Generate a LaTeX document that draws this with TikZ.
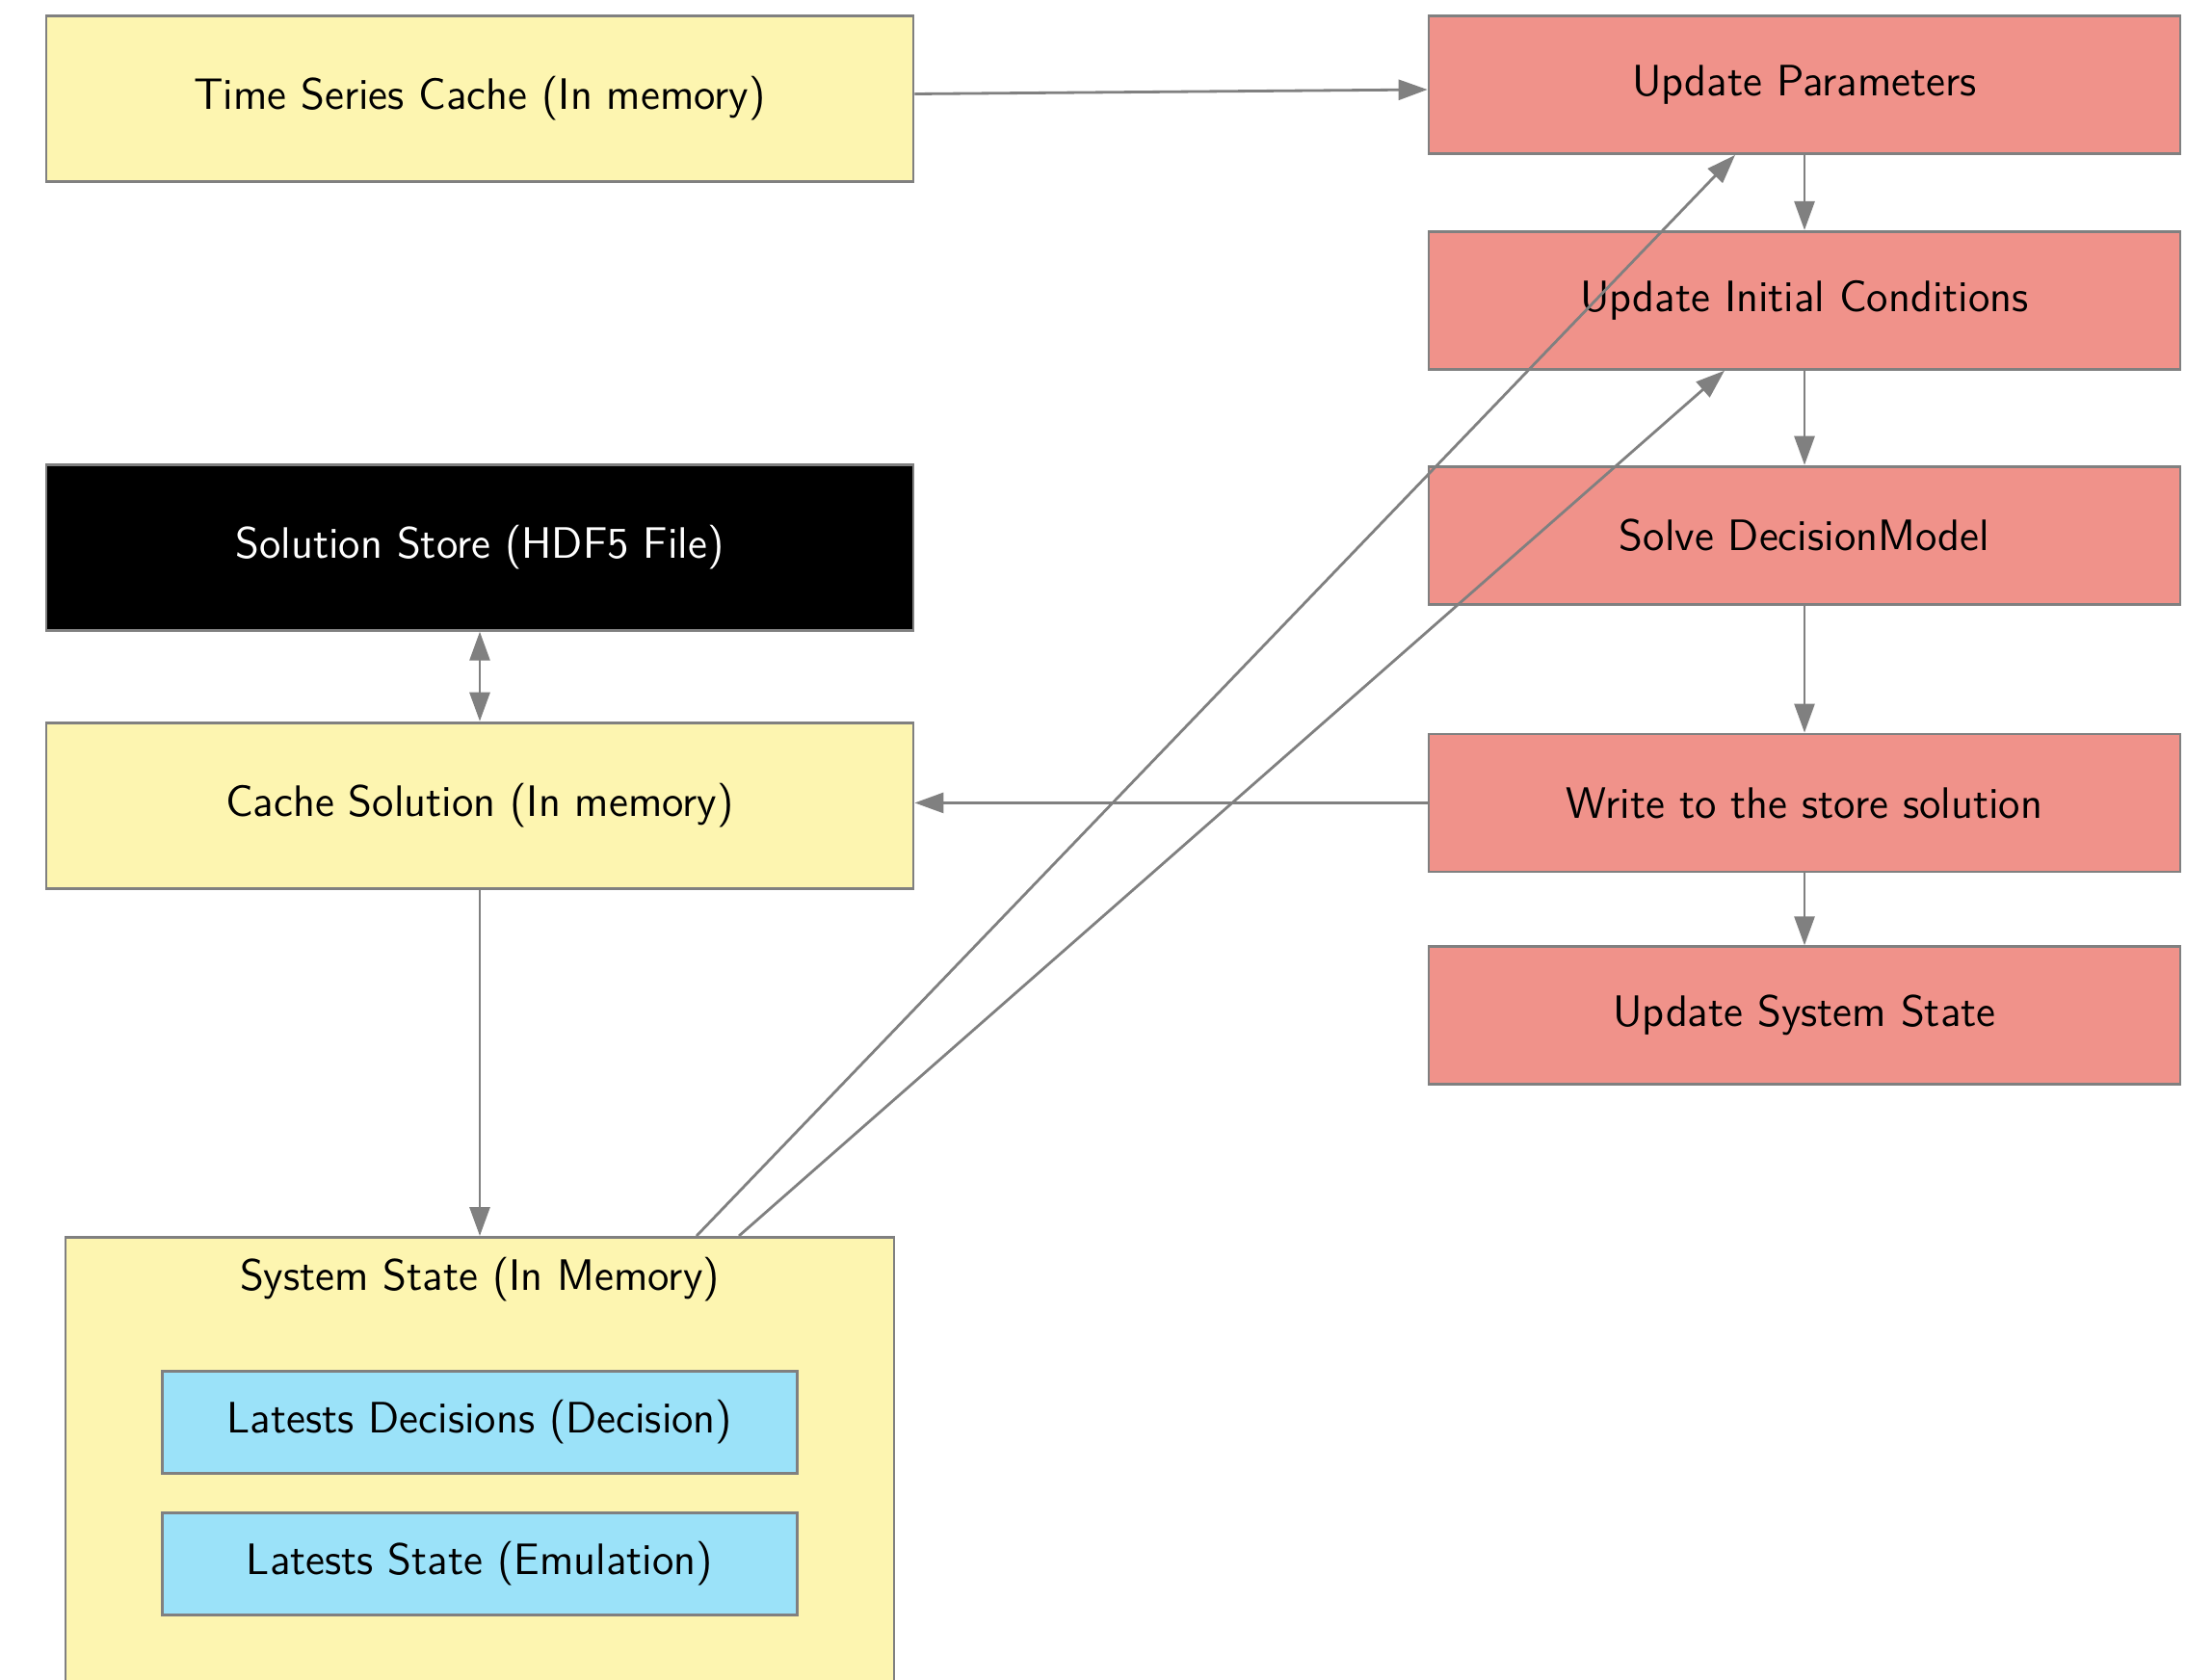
\documentclass[tikz,border=0pt]{standalone}
\usepackage{tikz}
\usetikzlibrary{arrows.meta,positioning}
\definecolor{edge}{RGB}{128,128,128}
\definecolor{memfill}{RGB}{253,245,176}
\definecolor{stepfill}{RGB}{240,146,138}
\definecolor{latfill}{RGB}{155,226,249}
\tikzset{
  base/.style={draw=edge,line width=0.8pt,font=\sffamily\fontsize{13}{15.6}\selectfont,
    align=center,inner sep=4pt},
  membox/.style={base,fill=memfill,minimum width=9cm,minimum height=1.72cm},
  stepbox/.style={base,fill=stepfill,minimum width=7.8cm,minimum height=1.43cm},
  filebox/.style={base,fill=black,text=white,minimum width=9cm,minimum height=1.72cm},
  latbox/.style={base,fill=latfill,minimum width=6.59cm,minimum height=1.06cm},
  tip/.style={Triangle[length=3mm,width=2.1mm]},
  arr/.style={-{Triangle[length=3mm,width=2.1mm]},line width=0.8pt,edge},
  biarr/.style={{Triangle[length=3mm,width=2.1mm]}-{Triangle[length=3mm,width=2.1mm]},line width=0.8pt,edge},
}

\begin{document}
\begin{tikzpicture}
  \useasboundingbox (0,0) rectangle (22.69,-17.44);
  % left column: caches and the store
  \node[membox] (tsc) at (4.98,-1.025) {Time Series Cache (In memory)};
  \node[filebox,below=2.91cm of tsc] (store) {Solution Store (HDF5 File)};
  \node[membox,below=0.93cm of store] (cache) {Cache Solution (In memory)};
  \node[base,fill=memfill,minimum width=8.6cm,minimum height=4.8cm,anchor=north,
    label={[base,draw=none,anchor=north,inner sep=6pt]north:System State (In Memory)}]
    (sys) at (4.98,-12.83) {};
  \node[latbox,anchor=north] (latdec) at ([yshift=-1.39cm]sys.north) {Latests Decisions (Decision)};
  \node[latbox,below=0.38cm of latdec] (latemu) {Latests State (Emulation)};
  % right column: the steps
  \node[stepbox] (upd) at (18.73,-0.88) {Update Parameters};
  \node[stepbox,below=0.78cm of upd] (uic) {Update Initial Conditions};
  \node[stepbox,below=0.98cm of uic] (solve) {Solve DecisionModel};
  \node[stepbox,below=1.32cm of solve] (write) {Write to the store solution};
  \node[stepbox,below=0.75cm of write] (updsys) {Update System State};
  % connectors
  \draw[arr] ([yshift=0.05cm]tsc.east) -- ([yshift=-0.05cm]upd.west);
  \draw[arr] (upd) -- (uic);
  \draw[arr] (uic) -- (solve);
  \draw[arr] (solve) -- (write);
  \draw[arr] (write) -- (updsys);
  \draw[arr] (write.west) -- (write.west -| cache.east);
  \draw[biarr] (store) -- (cache);
  \draw[arr] (cache) -- (sys);
  \draw[arr] ([xshift=2.25cm]sys.north) -- ([xshift=-0.72cm]upd.south);
  \draw[arr] ([xshift=2.69cm]sys.north) -- ([xshift=-0.83cm]uic.south);
\end{tikzpicture}
\end{document}
